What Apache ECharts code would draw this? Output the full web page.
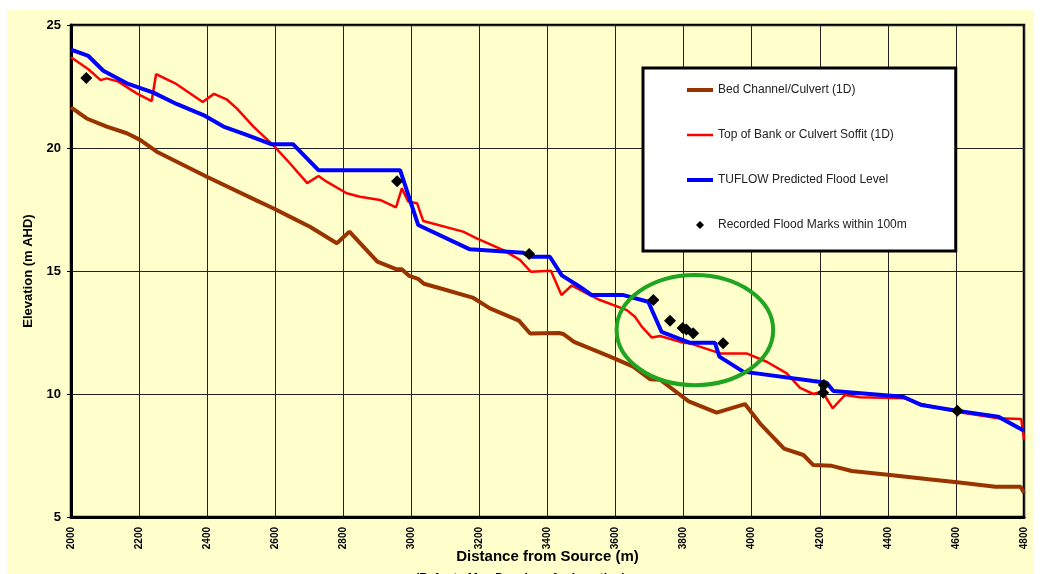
<!DOCTYPE html>
<html>
<head>
<meta charset="utf-8">
<title>Longitudinal Profile</title>
<script src="https://cdn.jsdelivr.net/npm/echarts@6/dist/echarts.min.js"></script>
<style>
  html, body { margin: 0; padding: 0; background: #ffffff; width: 1040px; height: 574px; overflow: hidden; }
  #chart { position: absolute; left: 7px; top: 10px; width: 1027px; height: 564px; }
</style>
</head>
<body>
<div id="chart"></div>
<script>
// Chainage along the creek (m) and elevations (m AHD)
const bedDistance = [2000, 2046, 2105, 2164, 2203, 2252, 2399, 2546, 2594, 2653, 2702, 2781, 2818, 2900, 2957, 2972, 2994, 3020, 3037, 3084, 3180, 3231, 3316, 3349, 3434, 3446, 3478, 3584, 3652, 3701, 3731, 3815, 3897, 3980, 4024, 4095, 4152, 4181, 4235, 4294, 4400, 4520, 4610, 4716, 4790, 4800];
const bedElevation = [21.65, 21.2, 20.87, 20.6, 20.33, 19.85, 18.83, 17.86, 17.55, 17.14, 16.8, 16.13, 16.6, 15.38, 15.07, 15.07, 14.8, 14.68, 14.48, 14.3, 13.92, 13.48, 12.98, 12.46, 12.48, 12.44, 12.12, 11.52, 11.11, 10.6, 10.58, 9.7, 9.24, 9.59, 8.81, 7.78, 7.52, 7.11, 7.08, 6.87, 6.72, 6.53, 6.4, 6.23, 6.23, 5.98];

const bankDistance = [2000, 2051, 2087, 2105, 2139, 2193, 2237, 2250, 2306, 2387, 2420, 2457, 2487, 2536, 2594, 2643, 2694, 2727, 2751, 2810, 2849, 2908, 2955, 2972, 2991, 3017, 3035, 3152, 3192, 3270, 3319, 3351, 3410, 3441, 3471, 3525, 3554, 3633, 3657, 3677, 3706, 3731, 3800, 3819, 3907, 3985, 4044, 4103, 4142, 4181, 4207, 4238, 4274, 4318, 4445, 4499, 4602, 4724, 4792, 4800];
const bankElevation = [23.69, 23.2, 22.76, 22.83, 22.7, 22.22, 21.91, 23.0, 22.63, 21.87, 22.2, 21.98, 21.61, 20.87, 20.12, 19.38, 18.57, 18.86, 18.63, 18.16, 18.02, 17.89, 17.59, 18.36, 17.82, 17.75, 17.03, 16.6, 16.33, 15.85, 15.45, 14.97, 15.01, 14.02, 14.41, 14.02, 13.82, 13.41, 13.14, 12.74, 12.3, 12.36, 12.08, 12.06, 11.65, 11.65, 11.31, 10.84, 10.25, 10.0, 10.1, 9.42, 9.96, 9.87, 9.83, 9.59, 9.28, 9.01, 8.98, 8.15];

const floodDistance = [2000, 2051, 2095, 2164, 2242, 2310, 2389, 2448, 2516, 2590, 2653, 2727, 2967, 3020, 3172, 3329, 3349, 3407, 3442, 3495, 3530, 3623, 3696, 3735, 3819, 3892, 3905, 3975, 4181, 4220, 4240, 4445, 4499, 4602, 4724, 4800];
const floodElevation = [24.0, 23.74, 23.14, 22.63, 22.25, 21.79, 21.34, 20.87, 20.53, 20.15, 20.15, 19.1, 19.1, 16.87, 15.88, 15.74, 15.58, 15.58, 14.82, 14.36, 14.02, 14.02, 13.75, 12.53, 12.08, 12.08, 11.52, 10.91, 10.53, 10.46, 10.12, 9.89, 9.55, 9.32, 9.08, 8.51];

const markDistance = [2045, 2958, 3346, 3711, 3760, 3797, 3808, 3828, 3916, 4212, 4210, 4604];
const markElevation = [22.85, 18.65, 15.69, 13.82, 12.98, 12.68, 12.62, 12.47, 12.06, 10.37, 10.05, 9.32];

// Reach of interest ringed on the profile: centre chainage/elevation and half extents
const focusReach = [3833, 12.6, 230, 2.24];

const seriesNames = [
  'Bed Channel/Culvert (1D)',
  'Top of Bank or Culvert Soffit (1D)',
  'TUFLOW Predicted Flood Level',
  'Recorded Flood Marks within 100m'
];

const yTicks = { min: 5, max: 25, step: 5 };
const xTicks = { min: 2000, max: 4800, step: 200 };

const zip = (xs, ys) => xs.map((x, i) => [x, ys[i]]);
const FONT = '"Liberation Sans", Arial, sans-serif';

// Legend keys: a bar of the line's thickness inside a 26x14 box, and a small diamond
const lineKey = (w) => 'path://M0,0M26,14M0,' + (7 - w / 2) + 'H26V' + (7 + w / 2) + 'H0Z';
const diamondKey = 'path://M0,0M26,14M13,3L17,7L13,11L9,7Z';

const chart = echarts.init(document.getElementById('chart'), null, { renderer: 'canvas' });

chart.setOption({
  animation: false,
  backgroundColor: '#FFFFCC',
  textStyle: { fontFamily: FONT },
  grid: {
    left: 64, top: 15, right: 10, bottom: 57,
    show: true, borderColor: '#000', borderWidth: 2.5, backgroundColor: 'transparent'
  },
  legend: {
    left: 636, top: 58,
    orient: 'vertical',
    itemWidth: 26, itemHeight: 14, itemGap: 31,
    padding: [15, 49, 19, 44],
    backgroundColor: '#ffffff',
    borderColor: '#000', borderWidth: 3,
    itemStyle: { borderWidth: 0 },
    textStyle: { fontFamily: FONT, fontSize: 12, color: '#222' },
    data: [
      { name: seriesNames[0], icon: lineKey(4) },
      { name: seriesNames[1], icon: lineKey(2.5) },
      { name: seriesNames[2], icon: lineKey(4) },
      { name: seriesNames[3], icon: diamondKey }
    ]
  },
  xAxis: {
    type: 'value',
    min: xTicks.min, max: xTicks.max, interval: xTicks.step,
    name: 'Distance from Source (m)',
    nameLocation: 'middle', nameGap: 32, nameMoveOverlap: false,
    nameTextStyle: { fontFamily: FONT, fontWeight: 'bold', fontSize: 15, color: '#000' },
    axisLine: { show: true, onZero: false, lineStyle: { color: '#000', width: 3 } },
    axisTick: { show: false },
    axisLabel: {
      rotate: 90, margin: 10, fontFamily: FONT, fontWeight: 'bold', fontSize: 10, color: '#000',
      formatter: (v) => String(v)
    },
    splitLine: { show: true, lineStyle: { color: '#222', width: 1 } }
  },
  yAxis: {
    type: 'value',
    min: yTicks.min, max: yTicks.max, interval: yTicks.step,
    name: 'Elevation (m AHD)',
    nameLocation: 'middle', nameGap: 36, nameRotate: 90, nameMoveOverlap: false,
    nameTextStyle: { fontFamily: FONT, fontWeight: 'bold', fontSize: 13, color: '#000' },
    axisLine: { show: true, onZero: false, lineStyle: { color: '#000', width: 3 } },
    axisTick: { show: true, length: 4, lineStyle: { color: '#000', width: 1 } },
    axisLabel: { margin: 10, fontFamily: FONT, fontWeight: 'bold', fontSize: 13, color: '#000' },
    splitLine: { show: true, lineStyle: { color: '#222', width: 1 } }
  },
  graphic: [{
    type: 'text',
    left: 'center', top: 563,
    style: {
      text: '(Refer to Map Drawings for Location)',
      font: 'bold 12px ' + FONT,
      fill: '#000'
    }
  }],
  series: [
    {
      name: seriesNames[0], type: 'line', data: zip(bedDistance, bedElevation),
      showSymbol: false, symbol: 'none', z: 2,
      lineStyle: { color: '#993300', width: 4 }, itemStyle: { color: '#993300' }
    },
    {
      name: seriesNames[1], type: 'line', data: zip(bankDistance, bankElevation),
      showSymbol: false, symbol: 'none', z: 3,
      lineStyle: { color: '#FF0000', width: 2.5 }, itemStyle: { color: '#FF0000' }
    },
    {
      name: seriesNames[2], type: 'line', data: zip(floodDistance, floodElevation),
      showSymbol: false, symbol: 'none', z: 4,
      lineStyle: { color: '#0000FF', width: 4 }, itemStyle: { color: '#0000FF' }
    },
    {
      name: 'focus', type: 'custom', z: 5, silent: true,
      data: [focusReach],
      encode: { x: 0, y: 1 },
      renderItem: function (params, api) {
        const c = api.coord([api.value(0), api.value(1)]);
        const e = api.coord([api.value(0) + api.value(2), api.value(1) + api.value(3)]);
        return {
          type: 'ellipse',
          shape: { cx: c[0], cy: c[1], rx: Math.abs(e[0] - c[0]), ry: Math.abs(c[1] - e[1]) },
          style: { fill: 'none', stroke: '#1FA51F', lineWidth: 4 }
        };
      }
    },
    {
      name: seriesNames[3], type: 'scatter', data: zip(markDistance, markElevation),
      symbol: 'diamond', symbolSize: 12, z: 6,
      itemStyle: { color: '#000', opacity: 1 }
    }
  ]
});
</script>
</body>
</html>
